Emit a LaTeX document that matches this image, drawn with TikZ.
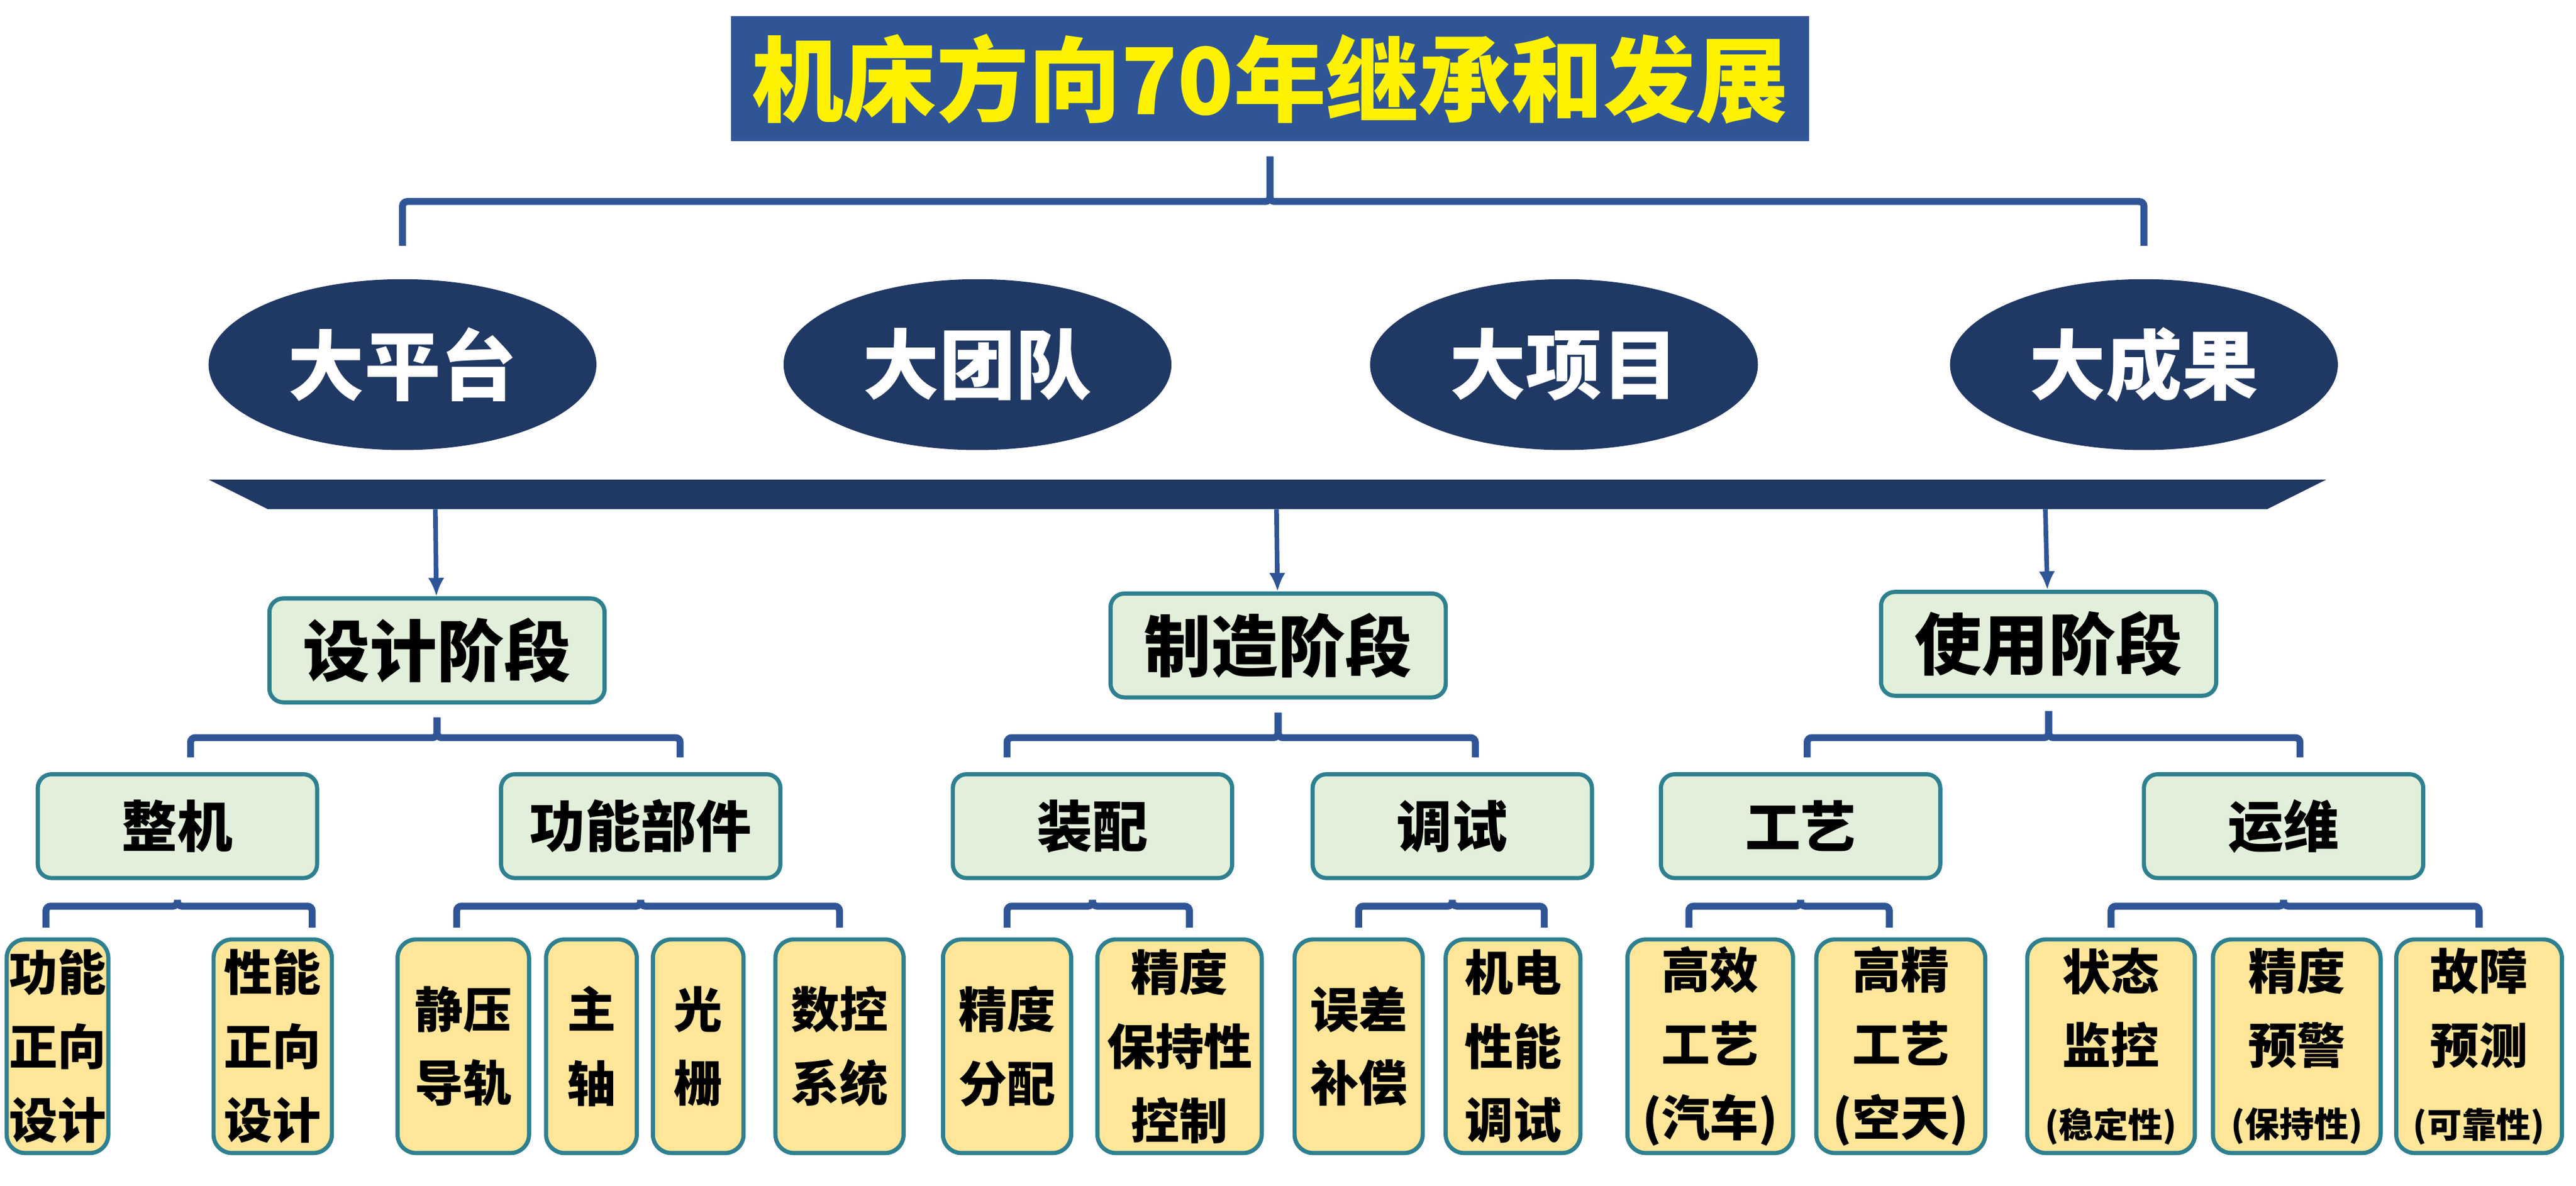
\documentclass[tikz,border=0pt]{standalone}
\usepackage{fontspec}
\setmainfont{Noto Sans CJK SC}
\usetikzlibrary{shapes,shapes.geometric}
\usetikzlibrary{arrows.meta}
\usetikzlibrary{positioning}
\definecolor{titleblue}{HTML}{2F5597}
\definecolor{navy}{HTML}{203864}
\definecolor{palegreen}{HTML}{E2EFDA}
\definecolor{paleyellow}{HTML}{FFE699}
\definecolor{teal}{HTML}{2E8090}
\definecolor{linkblue}{HTML}{2F5597}
\newcommand\smnote[1]{{\fontsize{15}{15}\selectfont #1}}
\begin{document}
\begin{tikzpicture}[x=0.025cm,y=-0.025cm]
\tikzset{bigoval/.style={ellipse,fill=navy,text=white,minimum width=5.9cm,minimum height=2.6cm,font=\bfseries\fontsize{33}{33}\selectfont},
stage/.style={rectangle,rounded corners=6pt,draw=teal,line width=1.8pt,fill=palegreen,minimum width=5.1cm,minimum height=1.58cm,font=\bfseries\fontsize{29}{29}\selectfont},
part/.style={rectangle,rounded corners=6pt,draw=teal,line width=1.8pt,fill=palegreen,minimum width=4.25cm,minimum height=1.58cm,font=\bfseries\fontsize{24}{24}\selectfont},
leaf/.style={rectangle,rounded corners=8pt,draw=teal,line width=1.8pt,fill=paleyellow,minimum height=3.25cm,inner sep=1pt,align=center,font=\bfseries\fontsize{21}{32}\selectfont},
brc/.style={draw=linkblue,line width=3pt,rounded corners=2pt}}
\useasboundingbox (0,0) rectangle (1568,722);
% title
\node[rectangle,fill=titleblue,text=yellow,minimum width=16.4cm,minimum height=1.9cm,font=\bfseries\fontsize{40}{40}\selectfont](title) at (773,48){机床方向70年继承和发展};
% ovals
\node[bigoval](o1) at (245,222){大平台};
\node[bigoval](o2) at (595,222){大团队};
\node[bigoval](o3) at (952,222){大项目};
\node[bigoval](o4) at (1305,222){大成果};
\draw[brc] ([yshift=0.5cm]o1.north) -- ++(0,-27) -| ([yshift=-0.225cm]title.south);
\draw[brc] ([yshift=0.5cm]o4.north) -- ++(0,-27) -| ([yshift=-0.225cm]title.south);
% band
\fill[navy] (127,292) -- (1416,292) -- (1380,310) -- (163,310) -- cycle;
\coordinate (b1) at (265,310);
\coordinate (b2) at (777,310);
\coordinate (b3) at (1245,310);
% stages
\node[stage](s1) at (266,396){设计阶段};
\node[stage](s2) at (778,393){制造阶段};
\node[stage](s3) at (1247,392){使用阶段};
\draw[linkblue,line width=2pt,-{Latex[length=8pt,width=7pt]}](b1) -- (s1);
\draw[linkblue,line width=2pt,-{Latex[length=8pt,width=7pt]}](b2) -- (s2);
\draw[linkblue,line width=2pt,-{Latex[length=8pt,width=7pt]}](b3) -- (s3);
% parts
\node[part](p1) at (108,503){整机};
\node[part](p2) at (390,503){功能部件};
\node[part](p3) at (665,503){装配};
\node[part](p4) at (884,503){调试};
\node[part](p5) at (1096,503){工艺};
\node[part](p6) at (1390,503){运维};
\draw[brc] ([yshift=0.225cm,xshift=0.2cm]p1.north) -- ++(0,-12) -| ([yshift=-0.2cm]s1.south);
\draw[brc] ([yshift=0.225cm,xshift=0.6cm]p2.north) -- ++(0,-12) -| ([yshift=-0.2cm]s1.south);
\draw[brc] ([yshift=0.225cm,xshift=-1.3cm]p3.north) -- ++(0,-12) -| ([yshift=-0.2cm]s2.south);
\draw[brc] ([yshift=0.225cm,xshift=0.35cm]p4.north) -- ++(0,-12) -| ([yshift=-0.2cm]s2.south);
\draw[brc] ([yshift=0.225cm,xshift=0.1cm]p5.north) -- ++(0,-12) -| ([yshift=-0.2cm]s3.south);
\draw[brc] ([yshift=0.225cm,xshift=0.25cm]p6.north) -- ++(0,-12) -| ([yshift=-0.2cm]s3.south);
% leaves
\node[leaf,minimum width=1.35cm](l1) at (35,637){功能\\正向\\设计};
\node[leaf,minimum width=1.8cm](l2) at (166,637){性能\\正向\\设计};
\node[leaf,minimum width=2cm](l3) at (282,637){静压\\导轨};
\node[leaf,minimum width=1.38cm](l4) at (360,637){主\\轴};
\node[leaf,minimum width=1.38cm](l5) at (425,637){光\\栅};
\node[leaf,minimum width=1.95cm](l6) at (511,637){数控\\系统};
\node[leaf,minimum width=1.95cm](l7) at (613,637){精度\\分配};
\node[leaf,minimum width=2.5cm](l8) at (718,637){精度\\保持性\\控制};
\node[leaf,minimum width=1.95cm](l9) at (827,637){误差\\补偿};
\node[leaf,minimum width=2.05cm](l10) at (921,637){机电\\性能\\调试};
\node[leaf,minimum width=2.52cm](l11) at (1041,637){高效\\工艺\\(汽车)};
\node[leaf,minimum width=2.57cm](l12) at (1157,637){高精\\工艺\\(空天)};
\node[leaf,minimum width=2.55cm](l13) at (1285,637){状态\\监控\\\smnote{(稳定性)}};
\node[leaf,minimum width=2.55cm](l14) at (1398,637){精度\\预警\\\smnote{(保持性)}};
\node[leaf,minimum width=2.52cm](l15) at (1509,637){故障\\预测\\\smnote{(可靠性)}};
\draw[brc] ([yshift=0.15cm,xshift=-0.175cm]l1.north) -- ++(0,-13) -| ([yshift=-0.3cm]p1.south);
\draw[brc] ([yshift=0.15cm,xshift=0.6cm]l2.north) -- ++(0,-13) -| ([yshift=-0.3cm]p1.south);
\draw[brc] ([yshift=0.15cm,xshift=-0.1cm]l3.north) -- ++(0,-13) -| ([yshift=-0.3cm]p2.south);
\draw[brc] ([yshift=0.15cm]l6.north) -- ++(0,-13) -| ([yshift=-0.3cm]p2.south);
\draw[brc] ([yshift=0.15cm]l7.north) -- ++(0,-13) -| ([yshift=-0.3cm]p3.south);
\draw[brc] ([yshift=0.15cm,xshift=0.15cm]l8.north) -- ++(0,-13) -| ([yshift=-0.3cm]p3.south);
\draw[brc] ([yshift=0.15cm]l9.north) -- ++(0,-13) -| ([yshift=-0.3cm]p4.south);
\draw[brc] ([yshift=0.15cm,xshift=0.475cm]l10.north) -- ++(0,-13) -| ([yshift=-0.3cm]p4.south);
\draw[brc] ([yshift=0.15cm,xshift=-0.325cm]l11.north) -- ++(0,-13) -| ([yshift=-0.3cm]p5.south);
\draw[brc] ([yshift=0.15cm,xshift=-0.175cm]l12.north) -- ++(0,-13) -| ([yshift=-0.3cm]p5.south);
\draw[brc] ([yshift=0.15cm]l13.north) -- ++(0,-13) -| ([yshift=-0.3cm]p6.south);
\draw[brc] ([yshift=0.15cm]l15.north) -- ++(0,-13) -| ([yshift=-0.3cm]p6.south);
\end{tikzpicture}
\end{document}
